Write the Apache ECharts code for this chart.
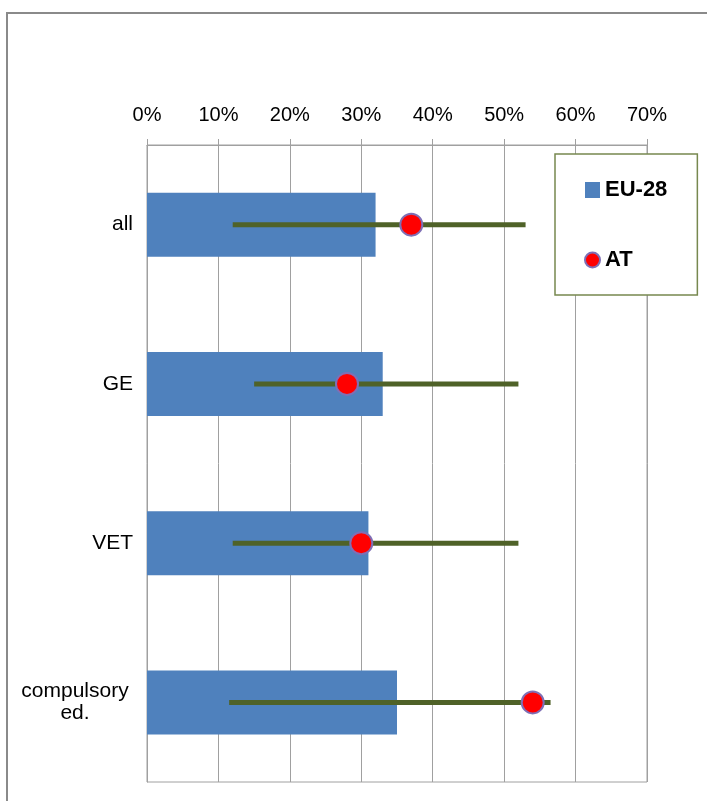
<!DOCTYPE html>
<html>
<head>
	<meta charset="UTF-8">
	<title></title>
	<script src="https://cdn.jsdelivr.net/npm/echarts@6/dist/echarts.min.js"></script>
	<style>
		body { margin: 0; background: #fff; }
		#main { width: 707px; height: 801px; }
	</style>
</head>
<body>
	<div id="main"></div>
	<script type="text/javascript">
		// categories, top to bottom
		var categories = ['all', 'GE', 'VET', 'compulsory ed.'];
		// EU-28 average (bars), %
		var eu28 = [32, 33, 31, 35];
		// Austria (red dots), %
		var at = [37, 28, 30, 54];
		// min / max range among countries (green lines), %
		var rangeMin = [12, 15, 12, 11.5];
		var rangeMax = [53, 52, 52, 56.5];
		var xTicks = { min: 0, max: 70, interval: 10 };

		var myChart = echarts.init(document.getElementById('main'));

		var rangeData = categories.map(function (c, i) {
			return [rangeMin[i], rangeMax[i], i];
		});

		myChart.setOption({
			backgroundColor: '#fff',
			animation: false,
			graphic: [{
				type: 'rect',
				shape: { x: 7, y: 13, width: 900, height: 900 },
				style: { fill: 'none', stroke: '#8a8a8a', lineWidth: 2 },
				silent: true
			}],
			legend: {
				orient: 'vertical',
				left: 555,
				top: 154,
				padding: [25, 30, 24, 29],
				itemGap: 48,
				itemWidth: 15,
				itemHeight: 16,
				backgroundColor: '#fff',
				borderColor: '#77884f',
				borderWidth: 1.5,
				borderRadius: 0,
				textStyle: {
					fontFamily: 'Liberation Sans',
					fontWeight: 'bold',
					fontSize: 22,
					color: '#000'
				},
				data: [
					{ name: 'EU-28', icon: 'rect' },
					{ name: 'AT', icon: 'circle' }
				]
			},
			grid: {
				left: 147,
				right: 60,
				top: 145,
				bottom: 19,
				show: true,
				borderColor: '#a0a0a0',
				borderWidth: 1
			},
			xAxis: {
				type: 'value',
				position: 'top',
				min: xTicks.min,
				max: xTicks.max,
				interval: xTicks.interval,
				axisLine: { show: true, lineStyle: { color: '#a0a0a0', width: 1 } },
				axisTick: { show: true, length: 6, lineStyle: { color: '#a0a0a0' } },
				splitLine: { show: true, lineStyle: { color: '#a0a0a0', width: 1 } },
				axisLabel: {
					formatter: '{value}%',
					margin: 20,
					fontFamily: 'Liberation Sans',
					fontSize: 20,
					color: '#000'
				}
			},
			yAxis: {
				type: 'category',
				inverse: true,
				data: categories,
				axisLine: { show: true, lineStyle: { color: '#a0a0a0' } },
				axisTick: { show: false },
				axisLabel: {
					margin: 14,
					fontFamily: 'Liberation Sans',
					fontSize: 21,
					color: '#000',
					lineHeight: 22,
					formatter: function (v) {
						if (v === 'compulsory ed.') {
							return '{c|compulsory}\n{c|ed.}';
						}
						return v;
					},
					rich: {
						c: {
							width: 116,
							align: 'center',
							fontFamily: 'Liberation Sans',
							fontSize: 21,
							lineHeight: 22,
							color: '#000'
						}
					}
				}
			},
			series: [{
				name: 'EU-28',
				type: 'bar',
				data: eu28,
				barWidth: 64,
				itemStyle: { color: '#4f81bd' },
				z: 2
			}, {
				name: 'range',
				type: 'custom',
				data: rangeData,
				encode: { x: [0, 1], y: 2 },
				z: 3,
				renderItem: function (params, api) {
					var p0 = api.coord([api.value(0), api.value(2)]);
					var p1 = api.coord([api.value(1), api.value(2)]);
					return {
						type: 'line',
						shape: { x1: p0[0], y1: p0[1], x2: p1[0], y2: p1[1] },
						style: { stroke: '#4f6228', lineWidth: 5 }
					};
				}
			}, {
				name: 'AT',
				type: 'scatter',
				data: at,
				symbol: 'circle',
				symbolSize: 22,
				itemStyle: {
					color: '#ff0000',
					borderColor: '#7f6fb5',
					borderWidth: 2,
					opacity: 1
				},
				z: 4
			}]
		});
	</script>
</body>
</html>
